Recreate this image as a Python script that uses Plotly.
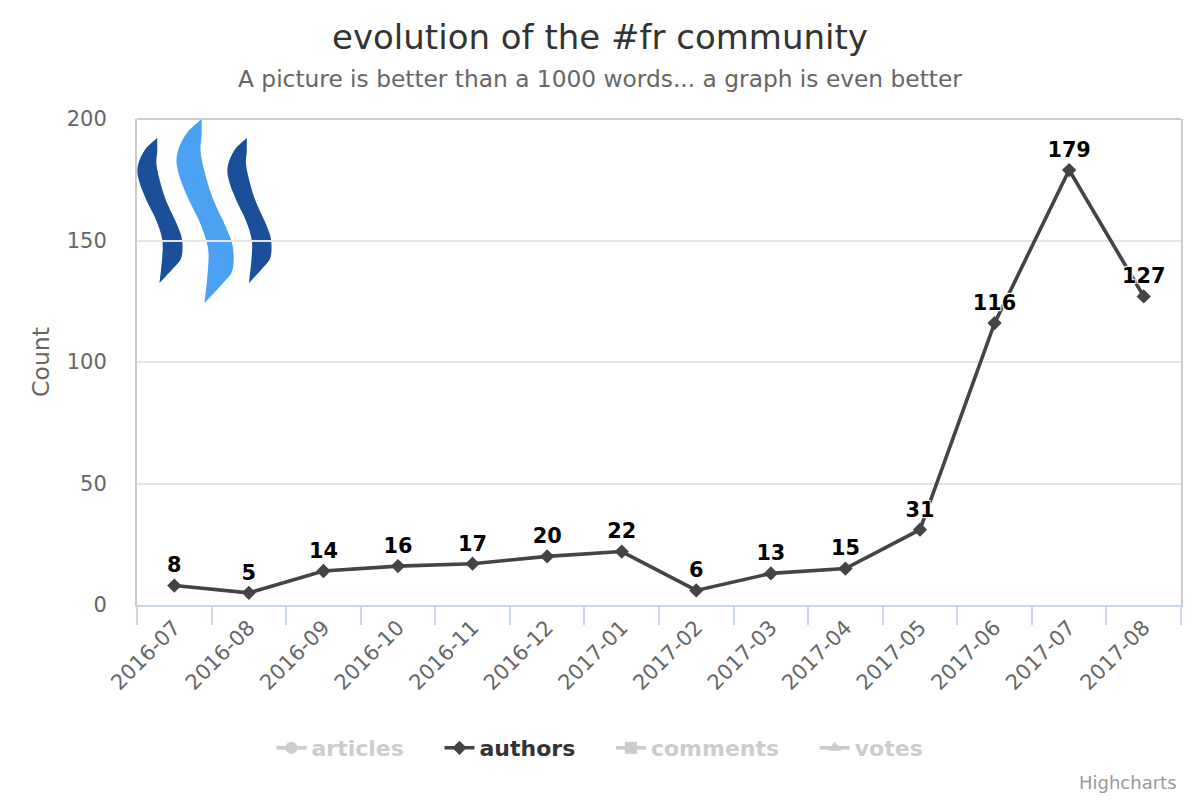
import plotly.graph_objects as go

# ---------------- data ----------------
months = ["2016-07", "2016-08", "2016-09", "2016-10", "2016-11", "2016-12", "2017-01",
          "2017-02", "2017-03", "2017-04", "2017-05", "2017-06", "2017-07", "2017-08"]
authors = [8, 5, 14, 16, 17, 20, 22, 6, 13, 15, 31, 116, 179, 127]
hidden_series = ["articles", "comments", "votes"]
hidden_symbols = ["circle", "square", "triangle-up"]
y_ticks = [0, 50, 100, 150, 200]

# ---------------- geometry ----------------
W, H = 1200, 800
L, R, T, B = 137, 1181, 119, 605
FONT = "DejaVu Sans"
PAD = "&nbsp;" * 4

def px(x):
    return (x - L) / (R - L)

def py(y):
    return (B - y) / (B - T)

fig = go.Figure()

order = ["articles", "authors", "comments", "votes"]
for k, name in enumerate(order):
    pad = PAD if k < len(order) - 1 else ""
    if name == "authors":
        fig.add_trace(go.Scatter(
            x=months, y=authors, name="authors" + pad, mode="lines+markers+text",
            line=dict(color="#434348", width=3.6),
            marker=dict(symbol="diamond", size=11, color="#434348"),
            text=[str(v) for v in authors], textposition="top center",
            textfont=dict(family=FONT, size=20.8, color="#000000", weight="bold",
                          shadow="1px 1px 1px #fff, -1px -1px 1px #fff, 1px -1px 1px #fff, -1px 1px 1px #fff"),
            cliponaxis=False, hoverinfo="x+y",
        ))
    else:
        i = hidden_series.index(name)
        fig.add_trace(go.Scatter(
            x=[None], y=[None], mode="lines+markers",
            name=f'<span style="color:#999999">{name}</span>' + pad,
            line=dict(color="#999999", width=3.6),
            marker=dict(symbol=hidden_symbols[i], size=12, color="#999999"),
            visible="legendonly",
        ))

# ---------------- Steem logo (decoration) ----------------
left_edge = [(.45, 0), (.18, .08), (.02, .19), (.04, .29), (.21, .43), (.43, .57),
             (.56, .70), (.56, .82), (.50, 1.0)]
right_edge = [(.50, 1.0), (.83, .89), (.99, .82), (1.0, .70), (.88, .59), (.62, .41),
              (.44, .20), (.45, .09), (.45, 0)]

def smooth(points):
    pts = [points[0]] + points + [points[-1]]
    segs = []
    for i in range(1, len(pts) - 2):
        p0, p1, p2, p3 = pts[i - 1], pts[i], pts[i + 1], pts[i + 2]
        c1 = (p1[0] + (p2[0] - p0[0]) / 6, p1[1] + (p2[1] - p0[1]) / 6)
        c2 = (p2[0] - (p3[0] - p1[0]) / 6, p2[1] - (p3[1] - p1[1]) / 6)
        segs.append((c1, c2, p2))
    return segs

def ribbon_path(x0, x1, y0, y1):
    def tr(p):
        return (px(x0 + p[0] * (x1 - x0)), py(y0 + p[1] * (y1 - y0)))
    start = tr(left_edge[0])
    d = f"M {start[0]:.5f},{start[1]:.5f}"
    for edge in (left_edge, right_edge):
        for c1, c2, p in smooth(edge):
            a, b, c = tr(c1), tr(c2), tr(p)
            d += f" C {a[0]:.5f},{a[1]:.5f} {b[0]:.5f},{b[1]:.5f} {c[0]:.5f},{c[1]:.5f}"
    return d + " Z"

logo = [((137, 182, 138, 283), "#1b4f9a"),
        ((176, 233, 119, 303), "#4ba2f2"),
        ((227, 271, 138, 283), "#1b4f9a")]
shapes = []
for (a, b, c, d), col in logo:
    shapes.append(dict(type="path", xref="paper", yref="paper", path=ribbon_path(a, b, c, d),
                       fillcolor=col, line=dict(width=0), layer="below"))
shapes.append(dict(type="line", xref="paper", yref="paper", x0=0, x1=1, y0=1, y1=1,
                   line=dict(color="#cccccc", width=2)))

fig.update_layout(
    width=W, height=H,
    margin=dict(l=L, r=W - R, t=T, b=H - B),
    paper_bgcolor="white", plot_bgcolor="rgba(0,0,0,0)",
    font=dict(family=FONT, color="#666666"),
    title=dict(text="evolution of the #fr community", x=0.5, xref="container", xanchor="center",
               y=1 - 37 / H, yref="container", yanchor="middle",
               font=dict(family=FONT, size=34, color="#333333")),
    showlegend=True,
    legend=dict(orientation="h", xref="container", yref="container", x=0.5, xanchor="center",
                y=1 - 748 / H, yanchor="middle",
                font=dict(family=FONT, size=22, color="#333333", weight="bold"),
                itemclick=False, itemdoubleclick=False),
    shapes=shapes,
    annotations=[
        dict(text="A picture is better than a 1000 words... a graph is even better",
             xref="paper", yref="paper", x=px(600), y=py(79), xanchor="center", yanchor="middle",
             showarrow=False, font=dict(family=FONT, size=23.3, color="#666666")),
        dict(text="Highcharts", xref="paper", yref="paper", x=px(1179), y=py(782),
             xanchor="right", yanchor="middle", showarrow=False,
             font=dict(family=FONT, size=18, color="#999999")),
    ],
    xaxis=dict(type="category", categoryorder="array", categoryarray=months,
               range=[-0.5, len(months) - 0.5], tickson="boundaries",
               ticks="outside", ticklen=18, tickwidth=1.8, tickcolor="#ccd6eb",
               showline=True, linecolor="#ccd6eb", linewidth=2, showgrid=False,
               tickangle=-45, tickfont=dict(family=FONT, size=21, color="#666666"),
               fixedrange=True),
    yaxis=dict(range=[0, 200], tickvals=y_ticks, showgrid=True, gridcolor="#e6e6e6", gridwidth=1.8,
               zeroline=False, showline=True, mirror=True, linecolor="#cccccc", linewidth=2,
               ticks="", ticklabelstandoff=24,
               tickfont=dict(family=FONT, size=21, color="#666666"),
               title=dict(text="Count", standoff=10, font=dict(family=FONT, size=23.5, color="#666666")),
               fixedrange=True),
)

fig.write_html("out.html", config={"displayModeBar": False},
               post_script="document.body.style.margin='0px';")
